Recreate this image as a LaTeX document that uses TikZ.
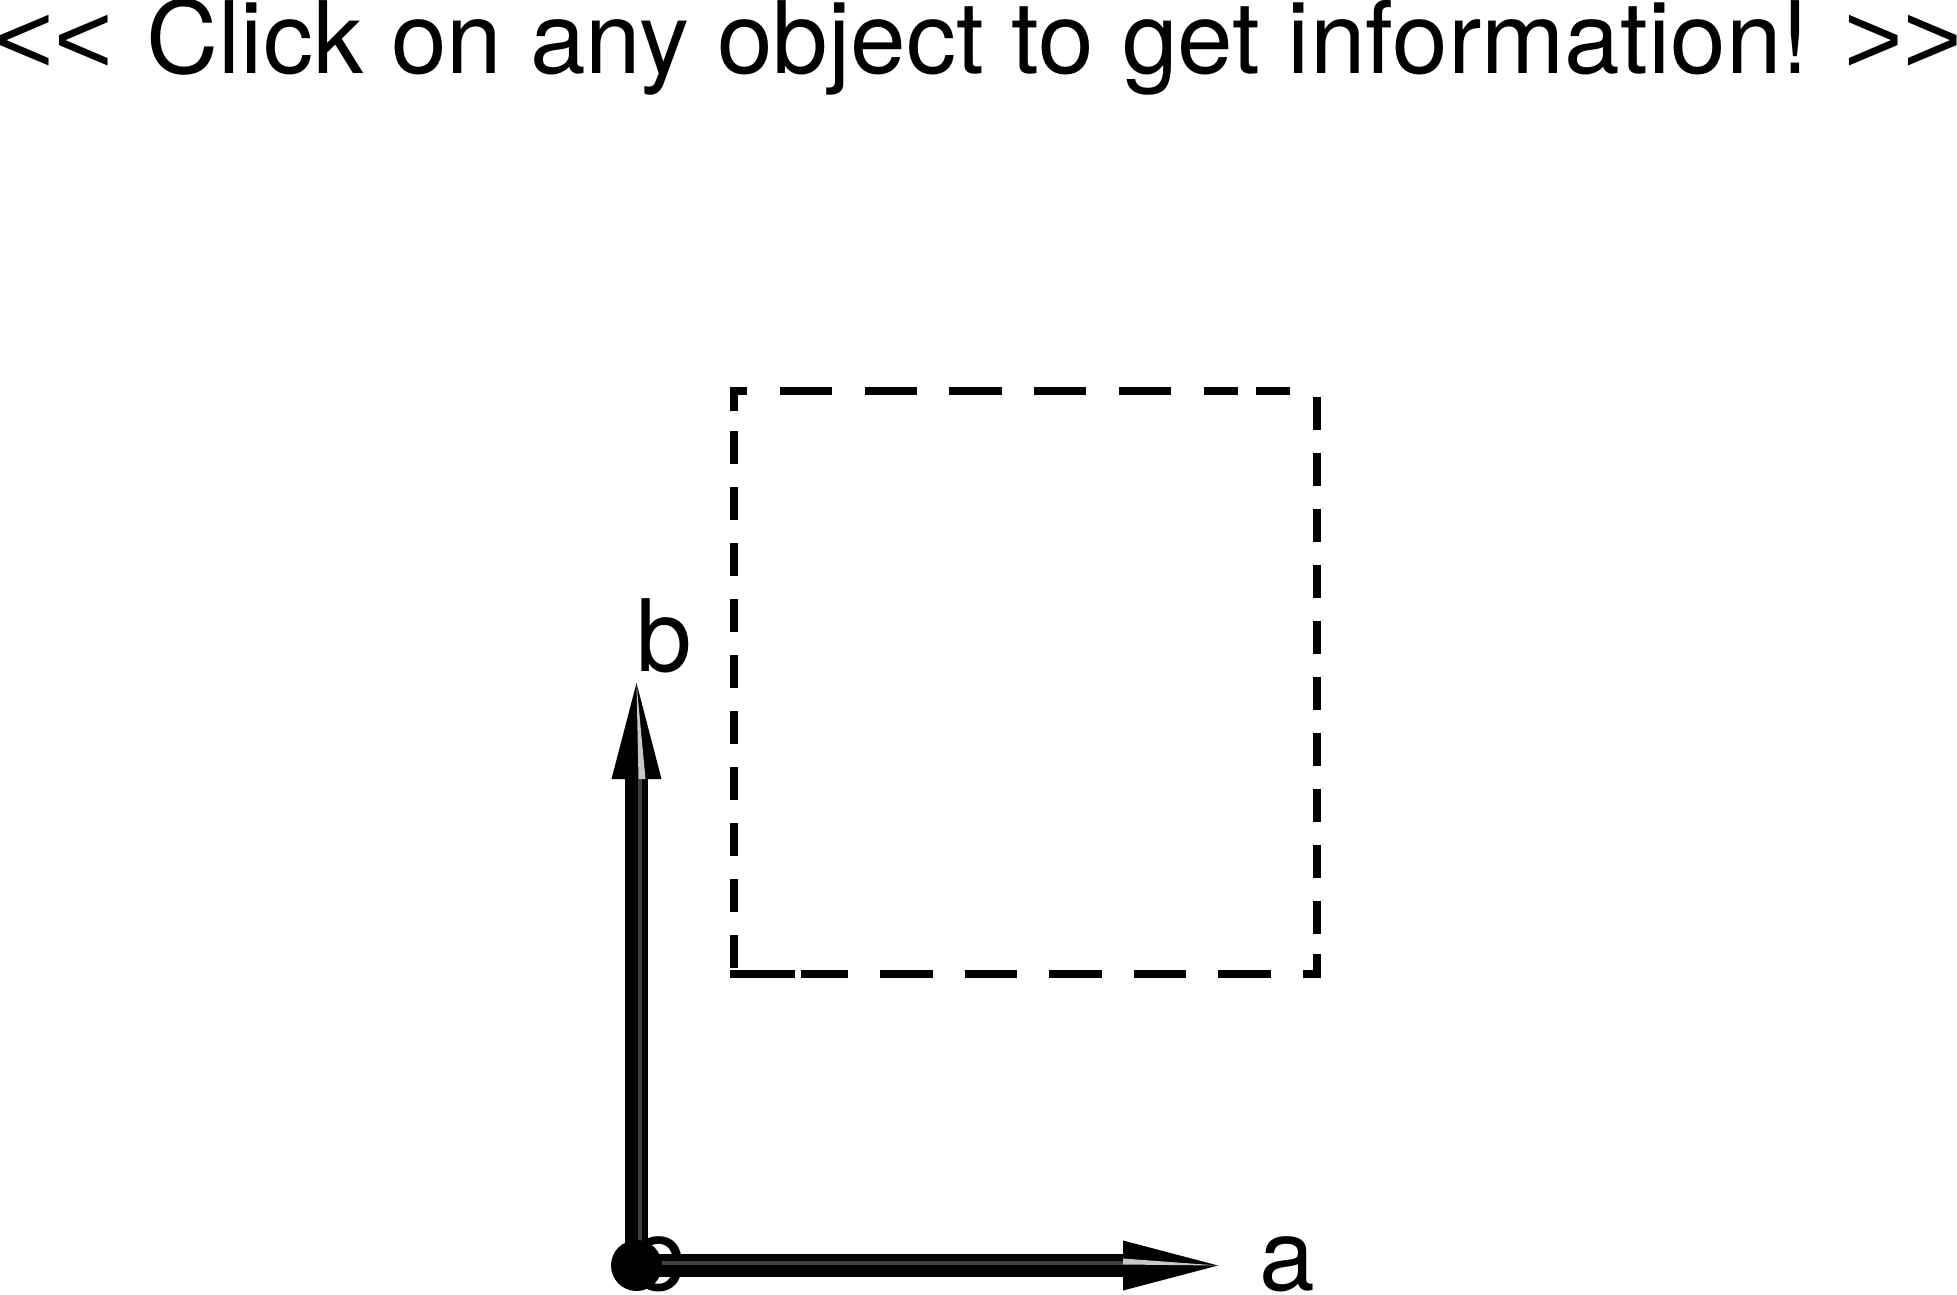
\documentclass[tikz,border=0pt]{standalone}
\usepackage{fontspec}
\newfontfamily\heros{TeX Gyre Heros}
\newfontfamily\chev{Liberation Sans}
\usetikzlibrary{calc}
\definecolor{hl}{gray}{0.78}
\definecolor{stripe}{gray}{0.25}
\begin{document}
\begin{tikzpicture}[x=1pt,y=-1pt,
  lbl/.style={anchor=base west, inner sep=0pt, font={\heros\fontsize{100}{120}\selectfont}},
  boxline/.style={line width=8pt, line cap=butt, black},
  boxcorner/.style={boxline, line join=miter},
  shaft/.style={line width=23pt, line cap=butt, black},
  shine/.style={line width=4pt, line cap=butt, stripe},
  head/.style={fill=black},
  gloss/.style={fill=hl}]
\useasboundingbox (0,0) rectangle (1957,1295);
% title
\node[lbl] (title) at (-4.5,74) {\makebox[1966pt][l]{{\chev<}{\chev<}\hspace{34pt}Click on any object to get information!\hfill{\chev>}{\chev>}}};
% dashed square
\draw[boxcorner] (734,411) -- (734,391) -- (747,391);
\draw[boxline, dash pattern=on 52.2pt off 32.5pt on 52.2pt off 32.5pt on 52.2pt off 32.5pt on 52.2pt off 32.5pt on 52.2pt off 32.5pt on 34pt off 18.5pt on 34pt off 50pt] (780,391) -- (1290,391);
\draw[boxline, dash pattern=on 33.5pt off 22.5pt] (1317,396.7) -- (1317,934.2);
\draw[boxcorner] (1317,954) -- (1317,974) -- (1303.4,974);
\draw[boxline, dash pattern=on 64.5pt off 6.2pt on 46.8pt off 32.8pt on 52.2pt off 32.3pt on 52.2pt off 32.3pt on 52.2pt off 32.3pt on 52.2pt off 32.3pt on 52.2pt off 32.3pt] (730,974) -- (1302.8,974);
\draw[boxline, dash pattern=on 33.5pt off 22.5pt] (734,430.6) -- (734,968.4);
% labels
\node[lbl] (o) at (631,1290) {o};
\node[lbl] (a) at (1259,1290) {a};
\node[lbl] (b) at (636,671) {b};
% vectors
\coordinate (O) at (636.5,1265.5);
\coordinate (A) at (1218,1265.5);
\coordinate (B) at (636.5,683);
\draw[shaft] (O) -- ($(B)+(0,96)$);
\draw[shine] ($(O)+(3,0)$) -- ($(B)+(3,96)$);
\fill[head] (B) -- ($(B)+(-25,96)$) -- ($(B)+(25,96)$) -- cycle;
\fill[gloss] (B) -- ($(B)+(2,96)$) -- ($(B)+(9,96)$) -- cycle;
\draw[shaft] (O) -- ($(A)+(-95,0)$);
\draw[shine] ($(O)+(0,-3)$) -- ($(A)+(-95,-3)$);
\fill[head] (A) -- ($(A)+(-95,-25)$) -- ($(A)+(-95,25)$) -- cycle;
\fill[gloss] (A) -- ($(A)+(-95,-7)$) -- ($(A)+(-95,-1)$) -- cycle;
\fill[black] (O) circle[radius=25.5];
\end{tikzpicture}
\end{document}
